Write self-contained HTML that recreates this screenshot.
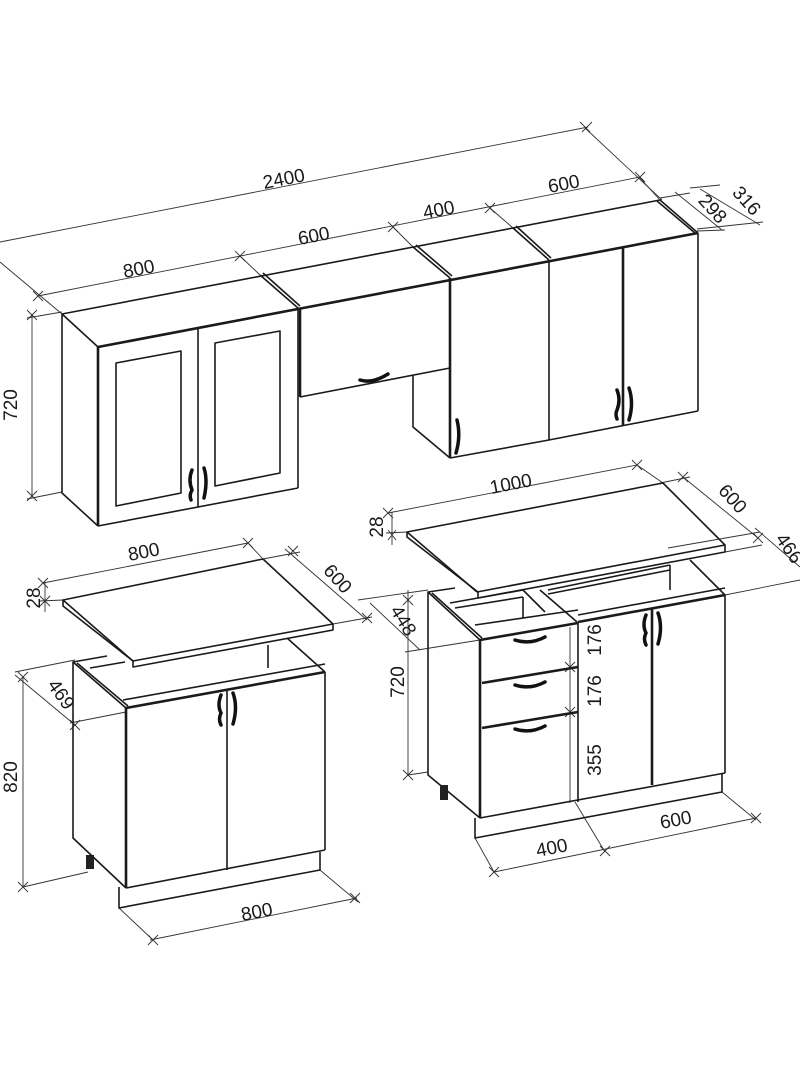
<!DOCTYPE html>
<html><head><meta charset="utf-8"><style>
html,body{margin:0;padding:0;background:#fff;}
svg{display:block;}
text{font-family:"Liberation Sans",sans-serif;font-size:19px;fill:#1a1a1a;}
.m{stroke:#1a1a1a;stroke-width:1.6;fill:none;stroke-linejoin:round;}
.t{stroke:#1a1a1a;stroke-width:2.6;fill:none;}
.d{stroke:#333;stroke-width:0.9;fill:none;}
.h{stroke:#111;stroke-width:3.5;fill:none;stroke-linecap:round;}
</style></head><body>
<svg width="800" height="1067" viewBox="0 0 800 1067" xmlns="http://www.w3.org/2000/svg">
<g class="d">
<line x1="0" y1="242" x2="588" y2="127"/>
<line x1="580" y1="122" x2="590" y2="132"/><line x1="582" y1="132" x2="592" y2="122"/>
<line x1="585" y1="128" x2="662" y2="200"/>
<line x1="0" y1="262" x2="62" y2="314"/>
<line x1="38" y1="296" x2="640" y2="177"/>
<line x1="33" y1="291" x2="43" y2="301"/><line x1="33" y1="301" x2="43" y2="291"/>
<line x1="235" y1="251" x2="245" y2="261"/><line x1="235" y1="261" x2="245" y2="251"/>
<line x1="388" y1="222" x2="398" y2="232"/><line x1="388" y1="232" x2="398" y2="222"/>
<line x1="485" y1="203" x2="495" y2="213"/><line x1="485" y1="213" x2="495" y2="203"/>
<line x1="635" y1="172" x2="645" y2="182"/><line x1="635" y1="182" x2="645" y2="172"/>
<line x1="240" y1="256" x2="260" y2="275"/>
<line x1="393" y1="227" x2="413" y2="247"/>
<line x1="490" y1="208" x2="513" y2="228"/>
<line x1="640" y1="178" x2="660" y2="200"/>
<line x1="660" y1="198" x2="690" y2="193"/>
<line x1="675" y1="192" x2="722" y2="230"/>
<line x1="700" y1="189" x2="760" y2="225"/>
<line x1="697" y1="231" x2="725" y2="230"/>
<line x1="697" y1="229" x2="763" y2="222"/>
<line x1="690" y1="188" x2="720" y2="185"/>
<line x1="32" y1="314" x2="32" y2="497"/>
<line x1="27" y1="318" x2="62" y2="312"/>
<line x1="27" y1="499" x2="62" y2="492"/>
<line x1="27" y1="310" x2="37" y2="320"/><line x1="27" y1="320" x2="37" y2="310"/>
<line x1="27" y1="491" x2="37" y2="501"/><line x1="27" y1="501" x2="37" y2="491"/>
</g>
<text x="285" y="185" transform="rotate(-11 285 185)" text-anchor="middle">2400</text>
<text x="140" y="275" transform="rotate(-11 140 275)" text-anchor="middle">800</text>
<text x="315" y="242" transform="rotate(-11 315 242)" text-anchor="middle">600</text>
<text x="440" y="216" transform="rotate(-11 440 216)" text-anchor="middle">400</text>
<text x="565" y="190" transform="rotate(-11 565 190)" text-anchor="middle">600</text>
<text x="708" y="213" transform="rotate(48 708 213)" text-anchor="middle">298</text>
<text x="742" y="205" transform="rotate(48 742 205)" text-anchor="middle">316</text>
<text x="17" y="405" transform="rotate(-90 17 405)" text-anchor="middle">720</text>

<polyline class="m" points="62,314 660,200 698,233"/>
<line class="t" x1="98" y1="347" x2="698" y2="233"/>
<line class="m" x1="62" y1="314" x2="98" y2="347"/>
<line class="m" x1="260" y1="275" x2="298" y2="308"/>
<line class="m" x1="263" y1="273" x2="300" y2="306"/>
<line class="m" x1="413" y1="247" x2="450" y2="278"/>
<line class="m" x1="416" y1="245" x2="452" y2="276"/>
<line class="m" x1="513" y1="228" x2="549" y2="260"/>
<line class="m" x1="516" y1="226" x2="551" y2="258"/>
<line class="m" x1="657" y1="201" x2="695" y2="233"/>
<polyline class="m" points="62,314 62,493 98,526"/>
<line class="t" x1="98" y1="347" x2="98" y2="526"/>
<line class="m" x1="98" y1="526" x2="298" y2="488"/>
<line class="m" x1="298" y1="308" x2="298" y2="488"/>
<line class="m" x1="198" y1="328" x2="198" y2="507"/>
<polygon class="m" points="116,363 181,351 181,493 116,506"/>
<polygon class="m" points="215,343 280,331 280,473 215,486"/>
<path class="h" d="M192,470 q-4,10 0,20 q-3,5 -1,10"/>
<path class="h" d="M204,468 q4,12 0,30"/>
<line class="t" x1="300" y1="308" x2="300" y2="397"/>
<line class="m" x1="300" y1="397" x2="450" y2="368"/>
<path class="h" d="M360,380 q12,4 28,-6"/>
<polyline class="m" points="413,375 413,427 450,458"/>
<line class="t" x1="450" y1="278" x2="450" y2="458"/>
<line class="m" x1="450" y1="458" x2="549" y2="440"/>
<line class="m" x1="549" y1="260" x2="549" y2="440"/>
<path class="h" d="M457,420 q4,16 -1,33"/>
<line class="m" x1="549" y1="440" x2="698" y2="411"/>
<line class="m" x1="698" y1="233" x2="698" y2="411"/>
<line class="t" x1="623" y1="247" x2="623" y2="425"/>
<path class="h" d="M617,390 q4,10 0,20 q-2,4 0,9"/>
<path class="h" d="M629,388 q5,15 0,32"/>

<g class="d">
<line x1="43" y1="583" x2="248" y2="543"/>
<line x1="38" y1="578" x2="48" y2="588"/><line x1="38" y1="588" x2="48" y2="578"/>
<line x1="243" y1="538" x2="253" y2="548"/><line x1="243" y1="548" x2="253" y2="538"/>
<line x1="248" y1="543" x2="263" y2="559"/>
<line x1="45" y1="582" x2="45" y2="612"/>
<line x1="40" y1="601" x2="63" y2="600"/>
<line x1="40" y1="596" x2="50" y2="606"/><line x1="40" y1="606" x2="50" y2="596"/>
<line x1="285" y1="549" x2="367" y2="620"/>
<line x1="263" y1="559" x2="300" y2="552"/>
<line x1="333" y1="624" x2="372" y2="617"/>
<line x1="288" y1="546" x2="298" y2="556"/><line x1="288" y1="556" x2="298" y2="546"/>
<line x1="362" y1="613" x2="372" y2="623"/><line x1="362" y1="623" x2="372" y2="613"/>
<line x1="15" y1="672" x2="75" y2="660"/>
<line x1="15" y1="675" x2="75" y2="725"/>
<line x1="70" y1="723" x2="126" y2="712"/>
<line x1="70" y1="720" x2="80" y2="730"/><line x1="70" y1="730" x2="80" y2="720"/>
<line x1="23" y1="677" x2="23" y2="887"/>
<line x1="18" y1="672" x2="28" y2="682"/><line x1="18" y1="682" x2="28" y2="672"/>
<line x1="18" y1="882" x2="28" y2="892"/><line x1="18" y1="892" x2="28" y2="882"/>
<line x1="23" y1="887" x2="88" y2="872"/>
<line x1="119" y1="908" x2="153" y2="940"/>
<line x1="320" y1="870" x2="358" y2="902"/>
<line x1="150" y1="940" x2="357" y2="898"/>
<line x1="148" y1="935" x2="158" y2="945"/><line x1="148" y1="945" x2="158" y2="935"/>
<line x1="350" y1="893" x2="360" y2="903"/><line x1="350" y1="903" x2="360" y2="893"/>
</g>
<text x="145" y="558" transform="rotate(-11 145 558)" text-anchor="middle">800</text>
<text x="333" y="583" transform="rotate(48 333 583)" text-anchor="middle">600</text>
<text x="40" y="598" transform="rotate(-90 40 598)" text-anchor="middle">28</text>
<text x="56" y="698" transform="rotate(55 56 698)" text-anchor="middle">469</text>
<text x="17" y="777" transform="rotate(-90 17 777)" text-anchor="middle">820</text>
<text x="258" y="918" transform="rotate(-11 258 918)" text-anchor="middle">800</text>
<polygon class="m" points="63,600 263,559 333,624 333,630 133,667 133,661 63,606"/>
<line class="m" x1="63" y1="600" x2="133" y2="661"/>
<line class="m" x1="133" y1="661" x2="333" y2="624"/>
<polyline class="m" points="107,656 73,662 73,838 126,888"/>
<line class="m" x1="73" y1="662" x2="126" y2="708"/>
<line class="m" x1="77" y1="663" x2="128" y2="706"/>
<line class="m" x1="287" y1="638" x2="325" y2="672"/>
<line class="m" x1="268" y1="645" x2="268" y2="668"/>
<line class="m" x1="90" y1="668" x2="125" y2="662"/>
<line class="m" x1="123" y1="700" x2="325" y2="664"/>
<line class="t" x1="126" y1="708" x2="325" y2="672"/>
<line class="t" x1="126" y1="708" x2="126" y2="888"/>
<line class="m" x1="126" y1="888" x2="325" y2="850"/>
<line class="m" x1="325" y1="672" x2="325" y2="850"/>
<line class="m" x1="227" y1="690" x2="227" y2="870"/>
<polyline class="m" points="119,887 119,908 320,870 320,852"/>
<rect x="86" y="855" width="8" height="14" fill="#222"/>
<path class="h" d="M221,695 q-4,10 0,18 q-3,6 0,12"/>
<path class="h" d="M233,693 q5,14 0,31"/>

<g class="d">
<line x1="388" y1="513" x2="637" y2="465"/>
<line x1="383" y1="508" x2="393" y2="518"/><line x1="383" y1="518" x2="393" y2="508"/>
<line x1="632" y1="460" x2="642" y2="470"/><line x1="632" y1="470" x2="642" y2="460"/>
<line x1="637" y1="465" x2="663" y2="483"/>
<line x1="392" y1="512" x2="392" y2="545"/>
<line x1="386" y1="533" x2="407" y2="532"/>
<line x1="388" y1="530" x2="396" y2="540"/><line x1="388" y1="540" x2="396" y2="530"/>
<line x1="660" y1="483" x2="690" y2="477"/>
<line x1="683" y1="477" x2="758" y2="538"/>
<line x1="678" y1="472" x2="688" y2="482"/><line x1="678" y1="482" x2="688" y2="472"/>
<line x1="668" y1="548" x2="760" y2="532"/>
<line x1="725" y1="552" x2="762" y2="545"/>
<line x1="753" y1="533" x2="763" y2="543"/><line x1="753" y1="543" x2="763" y2="533"/>
<line x1="755" y1="528" x2="800" y2="567"/>
<line x1="725" y1="595" x2="800" y2="580"/>
<line x1="358" y1="600" x2="428" y2="590"/>
<line x1="370" y1="603" x2="420" y2="650"/>
<line x1="405" y1="652" x2="480" y2="640"/>
<line x1="403" y1="595" x2="413" y2="605"/><line x1="403" y1="605" x2="413" y2="595"/>
<line x1="408" y1="590" x2="408" y2="775"/>
<line x1="403" y1="770" x2="413" y2="780"/><line x1="403" y1="780" x2="413" y2="770"/>
<line x1="408" y1="775" x2="428" y2="772"/>
<line x1="570" y1="627" x2="570" y2="803"/>
<line x1="565" y1="662" x2="575" y2="672"/><line x1="565" y1="672" x2="575" y2="662"/>
<line x1="565" y1="707" x2="575" y2="717"/><line x1="565" y1="717" x2="575" y2="707"/>
<line x1="475" y1="838" x2="494" y2="872"/>
<line x1="575" y1="802" x2="605" y2="852"/>
<line x1="722" y1="792" x2="756" y2="820"/>
<line x1="494" y1="872" x2="756" y2="818"/>
<line x1="489" y1="867" x2="499" y2="877"/><line x1="489" y1="877" x2="499" y2="867"/>
<line x1="600" y1="846" x2="610" y2="856"/><line x1="600" y1="856" x2="610" y2="846"/>
<line x1="751" y1="813" x2="761" y2="823"/><line x1="751" y1="823" x2="761" y2="813"/>
</g>
<text x="512" y="490" transform="rotate(-11 512 490)" text-anchor="middle">1000</text>
<text x="728" y="503" transform="rotate(48 728 503)" text-anchor="middle">600</text>
<text x="784" y="552" transform="rotate(55 784 552)" text-anchor="middle">466</text>
<text x="383" y="527" transform="rotate(-90 383 527)" text-anchor="middle">28</text>
<text x="398" y="624" transform="rotate(58 398 624)" text-anchor="middle">448</text>
<text x="404" y="682" transform="rotate(-90 404 682)" text-anchor="middle">720</text>
<text x="601" y="640" transform="rotate(-90 601 640)" text-anchor="middle">176</text>
<text x="601" y="691" transform="rotate(-90 601 691)" text-anchor="middle">176</text>
<text x="601" y="760" transform="rotate(-90 601 760)" text-anchor="middle">355</text>
<text x="553" y="854" transform="rotate(-11 553 854)" text-anchor="middle">400</text>
<text x="677" y="826" transform="rotate(-11 677 826)" text-anchor="middle">600</text>
<polygon class="m" points="407,532 663,483 725,545 725,552 478,598 478,592 407,537"/>
<line class="m" x1="407" y1="532" x2="477" y2="592"/>
<line class="m" x1="477" y1="592" x2="725" y2="545"/>
<polyline class="m" points="455,588 428,592 428,775 480,818"/>
<line class="m" x1="428" y1="592" x2="480" y2="640"/>
<line class="m" x1="432" y1="593" x2="482" y2="638"/>
<line class="m" x1="690" y1="560" x2="725" y2="595"/>
<line class="m" x1="670" y1="565" x2="670" y2="590"/>
<line class="m" x1="548" y1="590" x2="670" y2="565"/>
<line class="m" x1="548" y1="594" x2="670" y2="570"/>
<polyline class="m" points="450,603 523,590 545,612"/>
<line class="m" x1="455" y1="608" x2="523" y2="597"/>
<line class="m" x1="523" y1="597" x2="523" y2="618"/>
<line class="m" x1="540" y1="590" x2="577" y2="622"/>
<line class="m" x1="475" y1="625" x2="578" y2="610"/>
<line class="m" x1="578" y1="615" x2="725" y2="588"/>
<line class="t" x1="480" y1="640" x2="578" y2="623"/>
<line class="t" x1="578" y1="622" x2="725" y2="595"/>
<line class="t" x1="480" y1="640" x2="480" y2="818"/>
<line class="m" x1="480" y1="818" x2="725" y2="773"/>
<line class="m" x1="578" y1="623" x2="578" y2="802"/>
<line class="m" x1="725" y1="595" x2="725" y2="773"/>
<line class="t" x1="652" y1="608" x2="652" y2="785"/>
<line class="t" x1="482" y1="683" x2="578" y2="667"/>
<line class="t" x1="482" y1="728" x2="578" y2="712"/>
<polyline class="m" points="475,818 475,838 722,792 722,773"/>
<rect x="440" y="785" width="8" height="15" fill="#222"/>
<path class="h" d="M515,640 q15,5 30,-3"/>
<path class="h" d="M515,685 q15,5 30,-3"/>
<path class="h" d="M515,729 q15,5 30,-3"/>
<path class="h" d="M646,615 q-4,10 0,18 q-3,6 0,12"/>
<path class="h" d="M658,613 q5,14 0,31"/>
</svg>
</body></html>
